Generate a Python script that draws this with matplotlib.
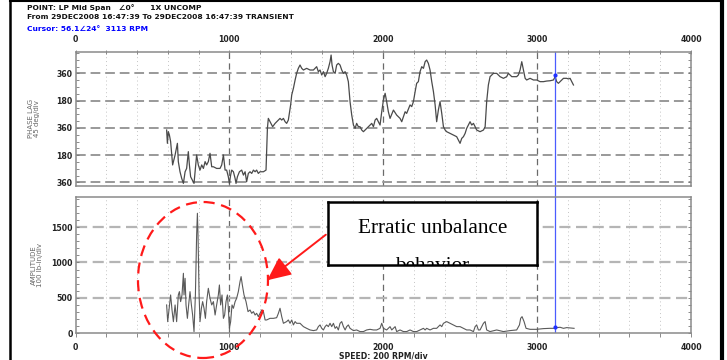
import matplotlib
matplotlib.use("Agg")
import matplotlib.pyplot as plt
from matplotlib.patches import Ellipse, FancyArrowPatch
from matplotlib.lines import Line2D
from matplotlib.ticker import MultipleLocator, FixedLocator

# 1X phase lag (unwrapped, deg) vs speed (rpm)
phase_rpm = [592, 597, 603, 610, 618, 631, 647, 662, 668, 679, 690, 701, 712, 722, 733, 740, 748, 759, 770,
             779, 787, 798, 809, 820, 831, 842, 852, 863, 874, 885, 896, 917, 939, 950, 961, 972, 982, 993,
             1000, 1008, 1015, 1026, 1037, 1043, 1052, 1065, 1080, 1091, 1102, 1112, 1123, 1134, 1145, 1156,
             1167, 1177, 1188, 1199, 1221, 1238, 1242, 1247, 1253, 1264, 1281, 1297, 1318, 1329, 1340, 1351,
             1362, 1372, 1383, 1398, 1405, 1416, 1427, 1437, 1448, 1459, 1470, 1481, 1502, 1524, 1546, 1557,
             1567, 1578, 1589, 1600, 1611, 1622, 1632, 1643, 1654, 1661, 1667, 1676, 1687, 1697, 1708, 1719,
             1730, 1741, 1752, 1762, 1773, 1784, 1795, 1806, 1817, 1827, 1838, 1849, 1860, 1871, 1882, 1892,
             1903, 1914, 1925, 1936, 1947, 1957, 1968, 1979, 1990, 2001, 2012, 2022, 2033, 2044, 2066, 2087,
             2109, 2120, 2131, 2142, 2152, 2174, 2185, 2196, 2207, 2217, 2228, 2239, 2250, 2261, 2272, 2282,
             2293, 2304, 2315, 2326, 2337, 2347, 2358, 2369, 2380, 2391, 2402, 2412, 2434, 2456, 2477, 2488,
             2499, 2510, 2521, 2532, 2542, 2553, 2564, 2575, 2586, 2597, 2607, 2629, 2651, 2662, 2672, 2683,
             2694, 2716, 2737, 2759, 2781, 2802, 2813, 2824, 2835, 2846, 2867, 2878, 2889, 2900, 2911, 2922,
             2932, 2954, 2976, 2997, 3019, 3041, 3062, 3084, 3106, 3117, 3127, 3138, 3149, 3160, 3171, 3192,
             3203, 3214, 3225, 3236]
phase_deg = [346, 258, 335, 313, 269, 115, 181, 258, 137, 70, 26, -7, 70, 92, 203, 115, 37, 15, -7,
             92, 181, 115, 81, 115, 92, 137, 115, 137, 192, 103, 103, 92, 92, 115, 181, 81, 81, 37,
             -7, 48, 81, 70, 26, -7, 37, 70, 81, 48, 70, 4, 59, 70, 59, 81,
             70, 81, 59, 70, 70, 81, 203, 357, 423, 401, 368, 390, 412, 423, 412, 423,
             401, 390, 412, 512, 578, 622, 677, 721, 754, 776, 754, 743, 754, 743, 743, 754,
             765, 732, 743, 710, 732, 699, 721, 754, 798, 842, 776, 732, 721, 776, 787, 776,
             743, 721, 732, 710, 666, 534, 445, 379, 357, 390, 368, 368, 346, 335, 346, 357,
             368, 379, 390, 368, 412, 423, 401, 379, 467, 545, 589, 534, 467, 423, 478, 445,
             423, 401, 434, 467, 456, 512, 501, 534, 600, 655, 666, 732, 765, 754, 798, 809,
             787, 743, 666, 600, 512, 401, 478, 534, 456, 368, 346, 335, 324, 313, 302, 280,
             258, 291, 302, 324, 357, 379, 401, 379, 390, 368, 346, 335, 346, 368, 534, 644,
             699, 721, 721, 699, 688, 699, 721, 710, 699, 699, 699, 710, 743, 798, 743, 688,
             677, 688, 677, 677, 666, 666, 670, 672, 677, 699, 666, 655, 666, 677, 688, 688,
             684, 688, 666, 644]

# 1X amplitude (lb-in) vs speed (rpm)
amp_rpm = [592, 599, 607, 618, 627, 636, 647, 657, 668, 675, 683, 692, 701, 705, 712, 718, 727, 735, 744,
           753, 761, 770, 779, 787, 792, 796, 803, 809, 818, 826, 835, 844, 852, 863, 874, 885, 896, 907,
           917, 928, 935, 943, 952, 961, 969, 978, 987, 993, 1000, 1008, 1017, 1026, 1037, 1047, 1058,
           1069, 1076, 1084, 1095, 1108, 1121, 1134, 1145, 1156, 1167, 1177, 1188, 1199, 1210, 1221, 1232,
           1242, 1264, 1286, 1307, 1318, 1329, 1340, 1351, 1372, 1383, 1394, 1405, 1416, 1427, 1437, 1459,
           1481, 1502, 1524, 1546, 1567, 1578, 1589, 1600, 1611, 1622, 1632, 1643, 1654, 1665, 1676, 1687,
           1697, 1708, 1719, 1730, 1741, 1752, 1762, 1773, 1784, 1806, 1827, 1849, 1871, 1892, 1914, 1936,
           1957, 1979, 1990, 2001, 2022, 2044, 2055, 2066, 2077, 2087, 2109, 2131, 2152, 2174, 2196, 2217,
           2239, 2261, 2272, 2282, 2304, 2326, 2347, 2369, 2380, 2391, 2412, 2434, 2456, 2477, 2499, 2521,
           2542, 2564, 2586, 2597, 2607, 2618, 2629, 2651, 2662, 2672, 2694, 2737, 2781, 2824, 2867, 2885,
           2893, 2902, 2915, 2928, 2954, 2997, 3041, 3084, 3106, 3128, 3149, 3171, 3192, 3214, 3240]
amp_val = [400, 164, 329, 541, 329, 164, 400, 164, 541, 588, 447, 541, 847, 541, 776, 400, 211, 400, 588,
           400, 258, 23, 541, 1388, 1694, 1388, 541, 164, 353, 447, 353, 211, 447, 635, 494, 400, 447, 258,
           400, 541, 682, 400, 541, 211, 258, 447, 541, 353, 70, 164, 400, 353, 447, 494, 588,
           729, 800, 682, 541, 447, 306, 329, 282, 306, 258, 282, 235, 282, 329, 306, 188,
           188, 211, 211, 220, 280, 353, 235, 141, 165, 188, 141, 188, 118, 165, 141, 141,
           94, 70, 47, 38, 47, 94, 118, 70, 47, 94, 118, 94, 141, 94, 141, 70,
           94, 47, 141, 165, 94, 47, 94, 118, 70, 38, 47, 24, 24, 47, 56, 47,
           47, 70, 141, 70, 47, 94, 47, 70, 94, 24, 47, 24, 24, 47, 24, 24,
           47, 70, 47, 70, 47, 70, 70, 118, 94, 141, 165, 141, 118, 94, 94, 70,
           47, 47, 24, 94, 118, 47, 47, 141, 165, 47, 24, 47, 24, 38, 47, 118,
           212, 235, 165, 70, 56, 56, 66, 70, 70, 80, 85, 70, 80, 75, 70]

speed_ticks = [0, 1000, 2000, 3000, 4000]
phase_ticks = [0, 180, 360, 540, 720]
phase_labels = ["360", "180", "360", "180", "360"]
amp_ticks = [0, 500, 1000, 1500]
cursor_rpm = 3113
cursor_phase = 710
cursor_amp = 93

header = ["POINT: LP Mid Span   \u22200\u00b0      1X UNCOMP",
          "From 29DEC2008 16:47:39 To 29DEC2008 16:47:39 TRANSIENT",
          "Cursor: 56.1\u222024\u00b0  3113 RPM"]

TXT = dict(family="DejaVu Sans", weight="bold", size=5.6, color="#222222")


def style_axes(ax, ymajor, yminor):
    ax.set_xlim(0, 4000)
    ax.xaxis.set_major_locator(FixedLocator(speed_ticks))
    ax.xaxis.set_minor_locator(MultipleLocator(200))
    ax.yaxis.set_major_locator(FixedLocator(ymajor))
    ax.yaxis.set_minor_locator(MultipleLocator(yminor))
    for s in ax.spines.values():
        s.set_color("#8a8a8a")
        s.set_linewidth(1.1)
    ax.tick_params(axis="y", which="both", direction="in", left=True, right=True,
                   length=2.5, width=0.6, color="#777777", pad=2)
    ax.tick_params(axis="x", which="both", length=3, width=0.6, color="#777777")
    # dotted minor grid, dashed grid at every 1000 rpm
    for x in range(200, 4000, 200):
        if x % 1000:
            ax.axvline(x, color="#c4c4c4", lw=0.7, ls=(0, (1, 3)), zorder=0)
        else:
            ax.axvline(x, color="#6a6a6a", lw=0.9, ls=(0, (5, 3.5)), zorder=0)


fig = plt.figure(figsize=(7.27, 3.6), dpi=100)
ax1 = fig.add_axes([0.1039, 0.4847, 0.8466, 0.3708])
ax2 = fig.add_axes([0.1039, 0.0742, 0.8466, 0.3786])

# phase panel
style_axes(ax1, phase_ticks, 45)
ax1.set_ylim(-21, 862)
for y in phase_ticks:
    ax1.axhline(y, color="#999999", lw=1.4, ls=(0, (5, 2.5)), zorder=0)
ax1.plot(phase_rpm, phase_deg, color="#4a4a4a", lw=0.9)
ax1.set_yticklabels(phase_labels, **TXT)
ax1.tick_params(axis="x", which="both", top=True, bottom=False, labeltop=True,
                labelbottom=False, direction="inout", pad=4)
ax1.set_xticklabels([str(v) for v in speed_ticks], **TXT)
ax1.set_ylabel("PHASE LAG\n45 deg/div", fontsize=5, color="#666666", labelpad=12, linespacing=1.0)

# amplitude panel
style_axes(ax2, amp_ticks, 100)
ax2.set_ylim(0, 1924)
for y in amp_ticks[1:]:
    ax2.axhline(y, color="#b5b5b5", lw=1.6, ls=(0, (5, 2.5)), zorder=0)
ax2.plot(amp_rpm, amp_val, color="#5a5a5a", lw=0.8)
ax2.set_yticklabels([str(v) for v in amp_ticks], **TXT)
ax2.tick_params(axis="x", which="both", direction="out", pad=4)
ax2.set_xticklabels([str(v) for v in speed_ticks], **TXT)
ax2.set_ylabel("AMPLITUDE\n100 lb-in/div", fontsize=5, color="#666666", labelpad=6, linespacing=1.0)
ax2.set_xlabel("SPEED: 200 RPM/div", labelpad=-0.6, **TXT)

# cursor
ax1.axvline(cursor_rpm, ymin=-0.087, ymax=1, color="#4a5cff", lw=0.9, clip_on=False)
ax2.axvline(cursor_rpm, color="#4a5cff", lw=0.9)
ax1.plot([cursor_rpm], [cursor_phase], "o", ms=2, color="#2030ff")
ax2.plot([cursor_rpm], [cursor_amp], "o", ms=2, color="#2030ff")

# header
for i, (txt, y) in enumerate(zip(header, [0.980, 0.953, 0.919])):
    fig.text(0.037, y, txt, ha="left", va="center", family="DejaVu Sans", weight="bold",
             size=5.4, color="#0000ff" if i == 2 else "#111111")

# callout
fig.add_artist(Ellipse((0.2792, 0.2222), 0.1788, 0.4333, transform=fig.transFigure,
                       fill=False, ec="#ff1a1a", lw=1.6, ls=(0, (5, 3))))
fig.add_artist(FancyArrowPatch((0.4512, 0.3528), (0.3645, 0.2167), transform=fig.transFigure,
                               arrowstyle="-|>,head_length=1.2,head_width=0.55", mutation_scale=12,
                               color="#ff1a1a", lw=1.4))
box = fig.add_axes([0.4512, 0.2639, 0.2875, 0.1750])
box.set_xticks([])
box.set_yticks([])
box.set_facecolor("white")
for s in box.spines.values():
    s.set_linewidth(1.8)
    s.set_color("black")
for txt, y in [("Erratic unbalance", 0.50), ("behavior", -0.09)]:
    t = box.text(0.5, y, txt, ha="center", va="baseline", family="Liberation Serif", size=15.3)
    t.set_clip_on(True)
    t.set_clip_box(box.bbox)

# outer frame
fig.add_artist(Line2D([10 / 727, 10 / 727], [0, 1], transform=fig.transFigure, color="black", lw=1.8))
fig.add_artist(Line2D([722 / 727, 722 / 727], [0, 1], transform=fig.transFigure, color="black", lw=3.0))
fig.add_artist(Line2D([10 / 727, 722 / 727], [0.996, 0.996], transform=fig.transFigure, color="black", lw=1.5))

fig.savefig("out.png", dpi=100)
